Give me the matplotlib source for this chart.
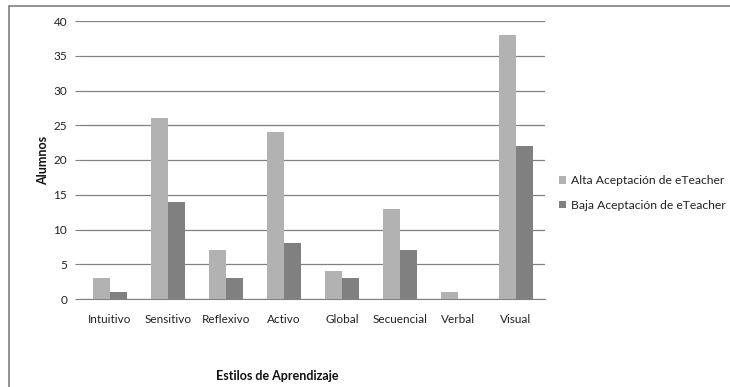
import numpy as np
import matplotlib
matplotlib.use("Agg")
from matplotlib import pyplot as plt
from matplotlib.patches import Rectangle

plt.rcParams['font.family'] = ['Lato', 'DejaVu Sans']

estilos = ["Intuitivo", "Sensitivo", "Reflexivo", "Activo",
           "Global", "Secuencial", "Verbal", "Visual"]
alta = [3, 26, 7, 24, 4, 13, 1, 38]
baja = [1, 14, 3, 8, 3, 7, 0, 22]
series_names = ["Alta Aceptación de eTeacher", "Baja Aceptación de eTeacher"]
yticks = [0, 5, 10, 15, 20, 25, 30, 35, 40]

W, H = 730, 387
fig = plt.figure(figsize=(W / 100, H / 100), dpi=100)

# outer chart border
fig.patches.append(Rectangle((9 / W, -0.05), 1.0, (H - 6) / H + 0.05,
                             transform=fig.transFigure, fill=False,
                             edgecolor="#7f7f7f", linewidth=1.2))

ax = fig.add_axes([81 / W, 1 - 299 / H, (545 - 81) / W, (299 - 21) / H])

x = np.arange(len(estilos))
w = 1 / 3.5
ax.bar(x - w / 2, alta, w, color="#b2b2b2", label=series_names[0], zorder=3)
ax.bar(x + w / 2, baja, w, color="#808080", label=series_names[1], zorder=3)

ax.set_xlim(-0.5, len(estilos) - 0.5)
ax.set_ylim(0, 40)
ax.set_yticks(yticks)
ax.yaxis.grid(True, color="#808080", linewidth=0.9, zorder=0)
ax.set_axisbelow(True)

for side in ["top", "right", "left"]:
    ax.spines[side].set_visible(False)
ax.spines["bottom"].set_color("#808080")

ax.tick_params(axis="y", length=4, color="#808080", labelsize=8.5, pad=6,
               labelcolor="#222222")
ax.tick_params(axis="x", length=0, labelsize=8.5, pad=11, labelcolor="#222222")
ax.set_xticks(x)
ax.set_xticklabels(estilos)

fig.text(43 / W, 1 - 160 / H, "Alumnos", rotation=90, fontsize=9,
         fontweight="bold", ha="center", va="center", color="#111111")
fig.text(277 / W, 1 - 376 / H, "Estilos de Aprendizaje", fontsize=9,
         fontweight="bold", ha="center", va="center", color="#111111")

ax.legend(loc="center left", bbox_to_anchor=(548 / W, 1 - 193 / H),
          bbox_transform=fig.transFigure, frameon=False, fontsize=8.7,
          handlelength=0.6, handleheight=0.6, handletextpad=0.4,
          labelspacing=1.1, labelcolor="#222222")

fig.savefig("out.png", dpi=100)
